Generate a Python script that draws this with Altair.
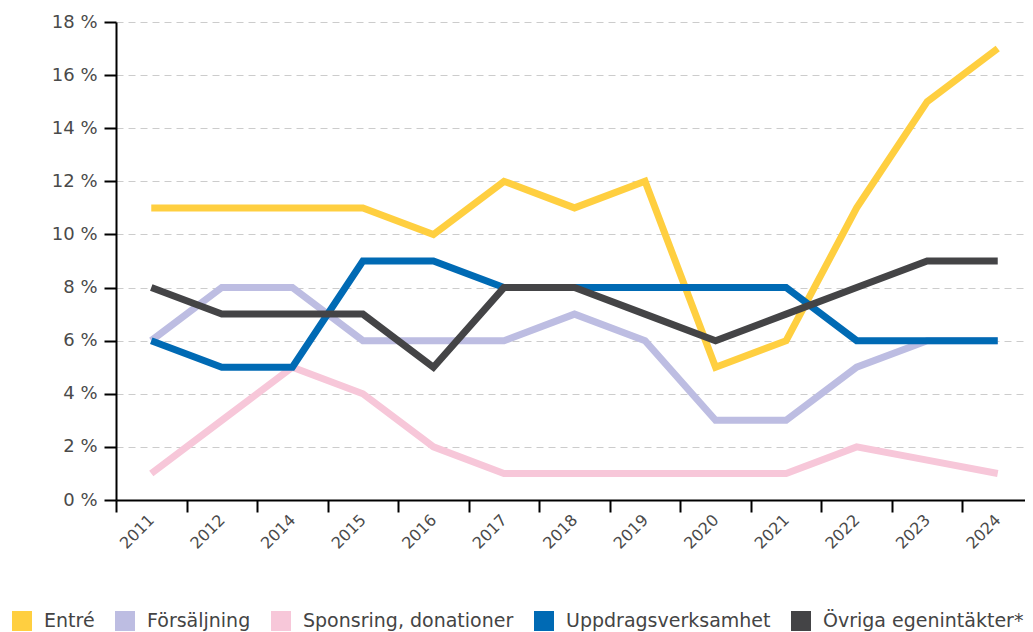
import altair as alt
import pandas as pd

years = ["2011", "2012", "2014", "2015", "2016", "2017", "2018", "2019",
         "2020", "2021", "2022", "2023", "2024"]
series_names = ["Entré", "Försäljning", "Sponsring, donationer",
                "Uppdragsverksamhet", "Övriga egenintäkter*"]
colors = ["#FFCF40", "#BDBDE2", "#F7C7D9", "#006AB4", "#444446"]

entre = [11, 11, 11, 11, 10, 12, 11, 12, 5, 6, 11, 15, 17]
forsaljning = [6, 8, 8, 6, 6, 6, 7, 6, 3, 3, 5, 6, 6]
sponsring = [1, 3, 5, 4, 2, 1, 1, 1, 1, 1, 2, 1.5, 1]
uppdrag = [6, 5, 5, 9, 9, 8, 8, 8, 8, 8, 6, 6, 6]
ovriga = [8, 7, 7, 7, 5, 8, 8, 7, 6, 7, 8, 9, 9]

all_values = [entre, forsaljning, sponsring, uppdrag, ovriga]
rows = []
for name, vals in zip(series_names, all_values):
    for y, v in zip(years, vals):
        rows.append({"year": y, "series": name, "value": v})
df = pd.DataFrame(rows)

FONT = "DejaVu Sans"

chart = alt.Chart(df).mark_line(strokeWidth=7, strokeCap="butt").encode(
    x=alt.X("year:O", sort=years, bandPosition=0.5,
            scale=alt.Scale(type="band", paddingInner=0, paddingOuter=0,
                            range=[0, 917]),
            axis=alt.Axis(title=None, labelAngle=-45, tickBand="extent",
                          labelAlign="right", labelBaseline="middle",
                          labelPadding=5, tickSize=12, tickWidth=2,
                          domainWidth=2, domainColor="#000", tickColor="#000",
                          labelFontSize=16, labelColor="#4a4a4a", labelFont=FONT,
                          grid=False)),
    y=alt.Y("value:Q", scale=alt.Scale(domain=[0, 18], nice=False, zero=True),
            axis=alt.Axis(title=None, values=list(range(0, 19, 2)),
                          labelExpr="datum.value + ' %'",
                          tickSize=12, tickWidth=2, domainWidth=2,
                          domainColor="#000", tickColor="#000",
                          labelPadding=7, labelFontSize=18,
                          labelColor="#4a4a4a", labelFont=FONT,
                          grid=True, gridColor="#cccccc", gridDash=[7, 5],
                          gridWidth=1)),
    color=alt.Color("series:N", sort=series_names,
                    scale=alt.Scale(domain=series_names, range=colors),
                    legend=alt.Legend(title=None, orient="none",
                                      direction="horizontal", columns=5,
                                      legendX=-104, legendY=589,
                                      symbolType="square", symbolSize=100,
                                      symbolStrokeWidth=10,
                                      labelFontSize=19, labelColor="#444444",
                                      labelFont=FONT, labelOffset=12,
                                      labelLimit=0, columnPadding=5)),
).properties(
    width=909,
    height=478,
    autosize=alt.AutoSizeParams(type="none"),
    padding={"left": 108, "top": 14, "right": 0, "bottom": 132},
).configure_view(stroke=None)

chart.save("out.html", embed_options={"renderer": "svg", "actions": False})
